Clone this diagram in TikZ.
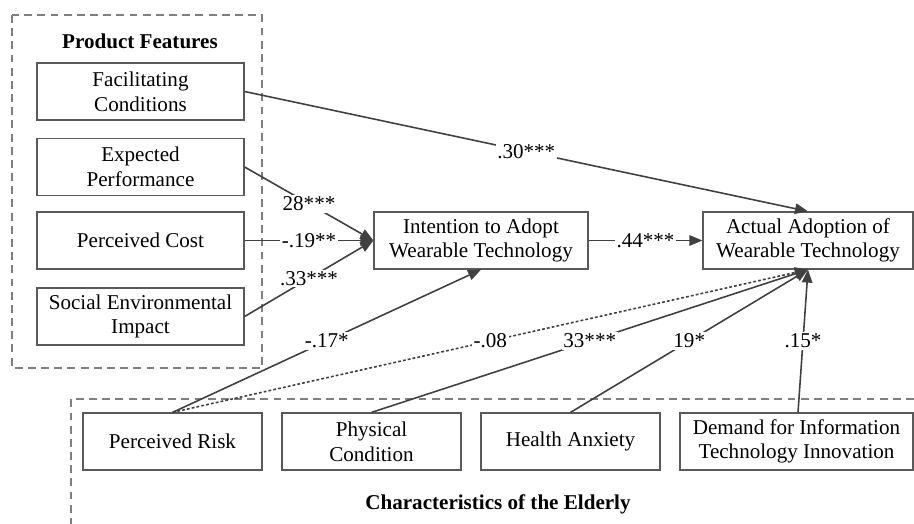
\documentclass[tikz,border=0pt]{standalone}
\usepackage{fontspec}
\setmainfont{Liberation Serif}
\usetikzlibrary{arrows.meta}
\definecolor{boxgray}{HTML}{5A5A5A}
\definecolor{linegray}{HTML}{404040}
\definecolor{dashgray}{HTML}{7F7F7F}

\begin{document}
\begin{tikzpicture}[x=0.02cm, y=-0.02cm,
    every node/.style={font=\fontsize{12}{14}\selectfont},
    factor/.style={draw=boxgray, line width=0.7pt, minimum height=1.14cm, align=center, inner sep=1pt},
    coef/.style={fill=white, inner sep=1pt, pos=0.5},
    conn/.style={draw=linegray, line width=0.9pt, -{Triangle[length=2.6mm,width=2.1mm]}},
    groupbox/.style={draw=dashgray, line width=0.6pt, dash pattern=on 4.5pt off 3pt}]
    \useasboundingbox (0,0) rectangle (914,524);
    \draw[groupbox] (12,15) rectangle (262,368);
    \draw[groupbox] (914,399) -| (71,524);
    \node[font=\fontsize{12}{14}\selectfont\bfseries] at (140,41) (PF) {Product Features};
    \node[font=\fontsize{12}{14}\selectfont\bfseries] at (498,504) (CE) {Characteristics of the Elderly};

    \node[factor, minimum width=4.14cm] at (140.5,91.5) (FC) {Facilitating\\Conditions};
    \node[factor, minimum width=4.14cm] at (140.5,167) (EP) {Expected\\Performance};
    \node[factor, minimum width=4.14cm] at (140.5,240.5) (PC) {Perceived Cost};
    \node[factor, minimum width=4.14cm] at (140.5,316.5) (SE) {Social Environmental\\Impact};
    \node[factor, minimum width=4.28cm] at (481,240.5) (IA) {Intention to Adopt\\Wearable Technology};
    \node[factor, minimum width=4.2cm] at (808,240.5) (AA) {Actual Adoption of\\Wearable Technology};
    \node[factor, minimum width=3.58cm] at (172.5,441.5) (PR) {Perceived Risk};
    \node[factor, minimum width=3.58cm] at (371.5,441.5) (PH) {Physical\\Condition};
    \node[factor, minimum width=3.58cm] at (570.5,441.5) (HA) {Health Anxiety};
    \node[factor, minimum width=4.66cm] at (796.5,441.5) (DI) {Demand for Information\\Technology Innovation};

    \draw[conn] (FC.east) -- node[coef] {.30***} (AA.north);
    \draw[conn] (EP.east) -- node[coef] {28***} (IA.west);
    \draw[conn] (PC.east) -- node[coef] {-.19**} (IA.west);
    \draw[conn] (SE.east) -- node[coef] {.33***} (IA.west);
    \draw[conn] (IA.east) -- node[coef] {.44***} (AA.west);
    \draw[conn] (PR.north) -- node[coef] {-.17*} (IA.south);
    \draw[conn, dash pattern=on 1.6pt off 1.2pt] (PR.north) -- node[coef] {-.08} (AA.south);
    \draw[conn] (PH.north) -- node[coef] {33***} (AA.south);
    \draw[conn] (HA.north) -- node[coef] {19*} (AA.south);
    \draw[conn] ([xshift=0.03cm]DI.north) -- node[coef] {.15*} (AA.south);
\end{tikzpicture}
\end{document}
